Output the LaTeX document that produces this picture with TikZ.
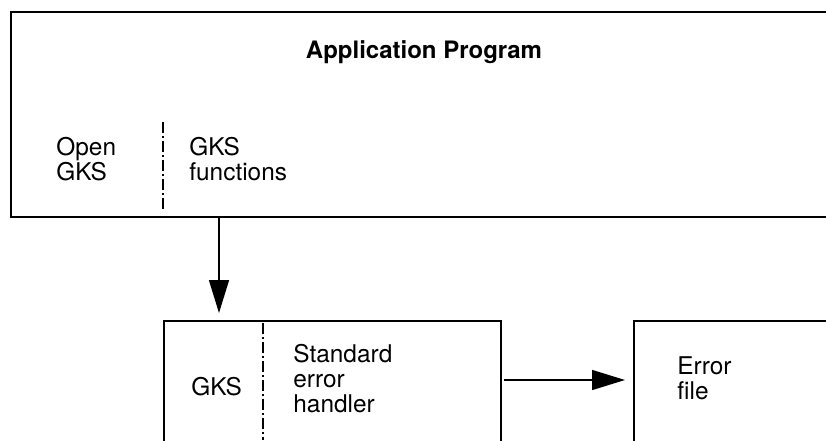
\documentclass[tikz,border=0pt]{standalone}
\usepackage{fontspec}
\setmainfont{TeX Gyre Heros}
\usetikzlibrary{arrows.meta}
\tikzset{
  divider/.style={line width=0.6pt,dash pattern=on 5.5pt off 1.5pt on 1pt off 1.5pt},
  flow/.style={line width=0.75pt,-{Triangle[length=16.5pt,width=10pt]}}
}
\begin{document}
\begin{tikzpicture}[x=0.5pt,y=-0.5pt]
  \clip (0,0) rectangle (826,440);
  \begin{scope}[every node/.style={draw,line width=0.75pt,inner sep=0pt,anchor=north west}]
    \node[minimum width=445pt,minimum height=102.5pt] (app) at (10,11) {};
    \node[minimum width=168.5pt,minimum height=90pt] (gks) at (163,320) {};
    \node[minimum width=133.5pt,minimum height=90pt] (err) at (633,320) {};
  \end{scope}

  \draw[divider] (163,122) -- (163,212);
  \draw[divider] (263,323) -- (263,440);

  \begin{scope}[every node/.style={inner sep=0pt,align=left,font=\fontsize{12.2}{12.5}\selectfont}]
    \node[anchor=base,font=\bfseries\fontsize{12}{12.5}\selectfont] (title) at (424,58) {Application Program};
    \node[anchor=north west] (open) at (56,137) {Open\\GKS};
    \node[anchor=north west] (funcs) at (189,137) {GKS\\functions};
    \node[anchor=base west] (kernel) at (191,395) {GKS};
    \node[anchor=north west] (handler) at (293,344) {Standard\\error\\handler};
    \node[anchor=north west] (file) at (677,356) {Error\\file};
  \end{scope}

  \draw[flow] ([xshift=104.5pt]app.south west) -- ([xshift=28pt,yshift=3.5pt]gks.north west);
  \draw[flow] ([xshift=1pt,yshift=-30pt]gks.north east) -- ([xshift=-4pt,yshift=-30pt]err.north west);
\end{tikzpicture}
\end{document}
